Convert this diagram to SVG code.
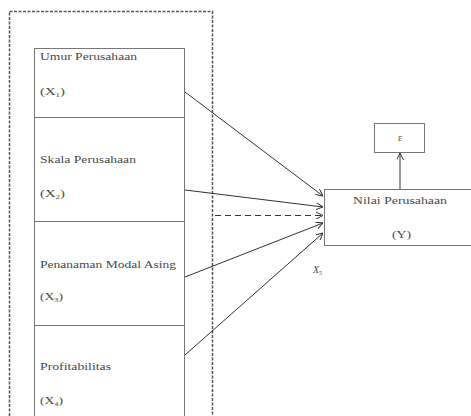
<svg xmlns="http://www.w3.org/2000/svg" width="471" height="416" viewBox="0 0 471 416">
<style>
.t{font-family:"Liberation Serif","Times New Roman",serif;font-size:10px;fill:#4a4a4a}
.box{fill:#fff;stroke:#777;stroke-width:1}
.ln{stroke:#333;stroke-width:1;fill:none}
</style>
<defs>
<marker id="ah" viewBox="0 0 10 10" refX="10" refY="5" markerWidth="7" markerHeight="7" orient="auto" markerUnits="userSpaceOnUse">
<path d="M0,0 L10,5 L0,10" fill="none" stroke="#333" stroke-width="1.4"/>
</marker>
</defs>
<rect width="471" height="416" fill="#fff"/>
<g id="outer">
<rect x="9.5" y="11.5" width="203" height="420" fill="none" stroke="#555" stroke-width="1.5" stroke-dasharray="3,1.5"/>
</g>
<g id="x1">
<rect class="box" x="34.5" y="48.5" width="150" height="69"/>
<text class="t" x="40" y="60" textLength="97" lengthAdjust="spacingAndGlyphs">Umur Perusahaan</text>
<text class="t" x="40" y="95" textLength="25" lengthAdjust="spacingAndGlyphs">(X<tspan font-size="6" dy="1.5">1</tspan><tspan dy="-1.5">)</tspan></text>
</g>
<g id="x2">
<rect class="box" x="34.5" y="117.5" width="150" height="104"/>
<text class="t" x="40" y="163" textLength="96" lengthAdjust="spacingAndGlyphs">Skala Perusahaan</text>
<text class="t" x="40" y="197" textLength="25" lengthAdjust="spacingAndGlyphs">(X<tspan font-size="6" dy="1.5">2</tspan><tspan dy="-1.5">)</tspan></text>
</g>
<g id="x3">
<rect class="box" x="34.5" y="221.5" width="150" height="104"/>
<text class="t" x="40" y="268" textLength="136" lengthAdjust="spacingAndGlyphs">Penanaman Modal Asing</text>
<text class="t" x="40" y="300" textLength="23" lengthAdjust="spacingAndGlyphs">(X<tspan font-size="6" dy="1.5">3</tspan><tspan dy="-1.5">)</tspan></text>
</g>
<g id="x4">
<rect class="box" x="34.5" y="325.5" width="150" height="110"/>
<text class="t" x="40" y="370" textLength="71" lengthAdjust="spacingAndGlyphs">Profitabilitas</text>
<text class="t" x="40" y="404" textLength="23" lengthAdjust="spacingAndGlyphs">(X<tspan font-size="6" dy="1.5">4</tspan><tspan dy="-1.5">)</tspan></text>
</g>
<g id="y">
<rect class="box" x="324.5" y="189.5" width="148" height="56"/>
<text class="t" x="353" y="204" textLength="94" lengthAdjust="spacingAndGlyphs">Nilai Perusahaan</text>
<text class="t" x="392" y="238" textLength="19" lengthAdjust="spacingAndGlyphs">(Y)</text>
</g>
<g id="e">
<rect class="box" x="374.5" y="123.5" width="50" height="29"/>
<text class="t" x="400" y="141" text-anchor="middle" font-size="11">ε</text>
</g>
<g id="connectors">
<line class="ln" x1="185" y1="92" x2="323" y2="196" marker-end="url(#ah)"/>
<line class="ln" x1="185" y1="190" x2="323" y2="207" marker-end="url(#ah)"/>
<line class="ln" x1="215" y1="215.5" x2="323" y2="215.5" stroke-dasharray="6,4" marker-end="url(#ah)"/>
<line class="ln" x1="185" y1="277" x2="323" y2="223" marker-end="url(#ah)"/>
<line class="ln" x1="185" y1="355" x2="323" y2="233" marker-end="url(#ah)"/>
<line class="ln" x1="400" y1="189" x2="400" y2="153" marker-end="url(#ah)"/>
</g>
<text class="t" x="313" y="273" font-style="italic">X<tspan font-size="6" dy="1.5" font-style="normal">5</tspan></text>
</svg>
